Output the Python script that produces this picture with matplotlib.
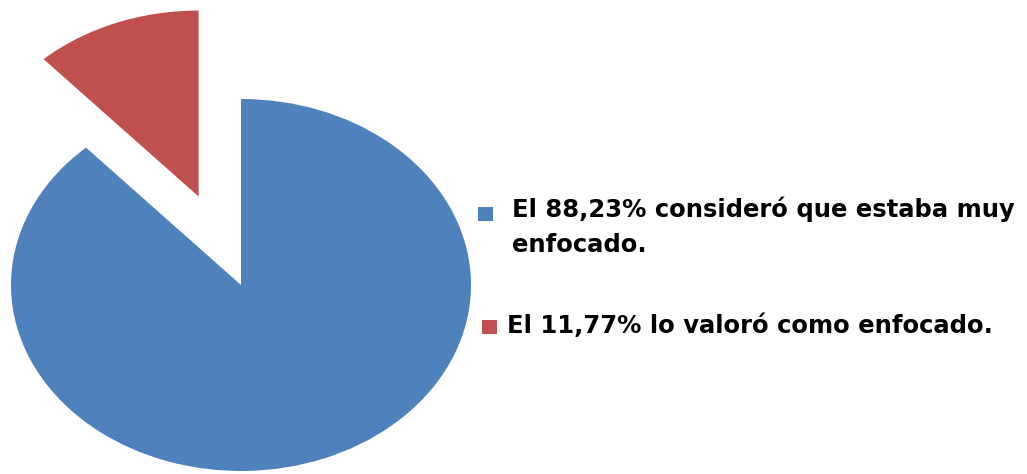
import matplotlib
matplotlib.use("Agg")
import matplotlib.pyplot as plt
from matplotlib.patches import Rectangle

# data
labels = ["El 11,77% lo valoró como enfocado.",
          "El 88,23% consideró que estaba muy\nenfocado."]
values = [11.77, 88.23]
colors = ["#C0504D", "#4F81BD"]
explode = [0.51, 0]

fig = plt.figure(figsize=(10.27, 4.74), dpi=100)
ax = fig.add_axes([0, 0, 1, 1])
ax.pie(values, colors=colors, explode=explode, startangle=90,
       counterclock=True, radius=1.0, frame=True)
ax.set_aspect("auto")
ax.set_xlim(-241 / 230, (1027 - 241) / 230)
ax.set_ylim(-189 / 186, 285 / 186)
ax.axis("off")

# legend drawn by hand (blue entry first), one text per line
W, H = 1027, 474
entries = [(labels[1], colors[1], 217, 512, (478, 207)),
           (labels[0], colors[0], 333, 507, (482, 320))]
for txt, col, base, tx, (sx, sy) in entries:
    fig.patches.append(Rectangle((sx / W, 1 - (sy + 14) / H), 15 / W, 14 / H,
                                 transform=fig.transFigure, facecolor=col,
                                 edgecolor="none"))
    for i, line in enumerate(txt.split("\n")):
        fig.text(tx / W, 1 - (base + 35 * i) / H, line, fontsize=17.5,
                 fontweight="bold", family="DejaVu Sans", va="baseline",
                 ha="left", color="black")

fig.savefig("out.png", dpi=100)
